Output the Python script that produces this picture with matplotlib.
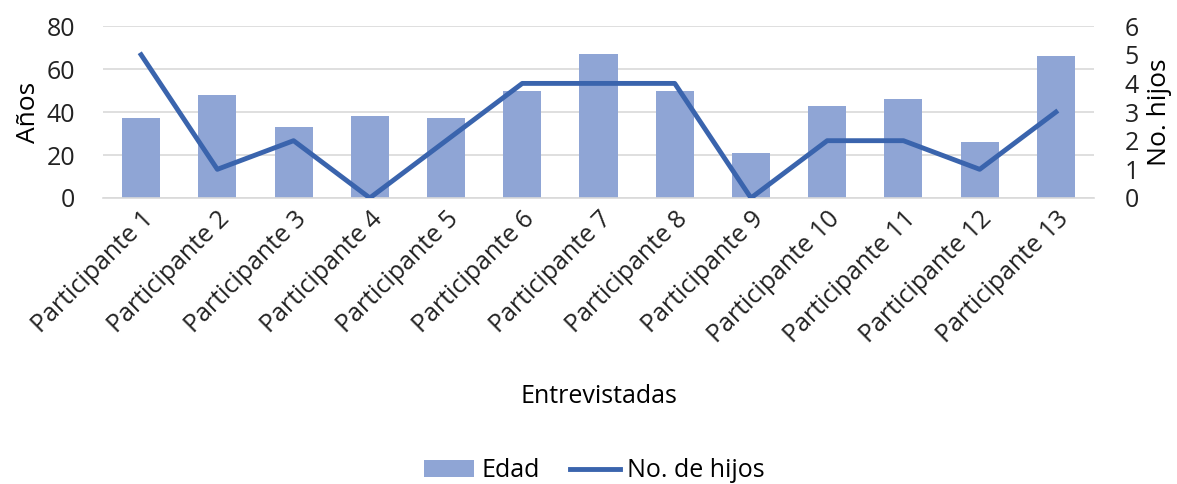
import matplotlib
matplotlib.use("Agg")
import matplotlib.pyplot as plt
import numpy as np

categories = [f"Participante {i}" for i in range(1, 14)]
edad = [37, 48, 33, 38, 37, 50, 67, 50, 21, 43, 46, 26, 66]
hijos = [5, 1, 2, 0, 2, 4, 4, 4, 0, 2, 2, 1, 3]

plt.rcParams['font.family'] = ['Open Sans', 'DejaVu Sans']

fig = plt.figure(figsize=(11.77, 4.84), dpi=100)
ax = fig.add_axes([0.0875, 0.591, 0.842, 0.355])
x = np.arange(len(categories))
bars = ax.bar(x, edad, width=0.5, color='#8FA5D5', label='Edad', zorder=2)
ax.set_ylim(0, 80)
ax.set_yticks([0, 20, 40, 60, 80])
ax.set_xlim(-0.5, len(categories) - 0.5)
ax.grid(axis='y', color='#d9d9d9', linewidth=1.2, zorder=0)
ax.set_axisbelow(True)
for s in ['top', 'right', 'left']:
    ax.spines[s].set_visible(False)
ax.spines['bottom'].set_color('#d9d9d9')
ax.spines['bottom'].set_linewidth(1.2)
ax.tick_params(axis='both', length=0, labelsize=18, colors='#222222')
ax.tick_params(axis='y', pad=20)
ax.tick_params(axis='x', pad=6)
ax.set_xticks(x)
ax.set_xticklabels(categories, rotation=45, ha='right', rotation_mode='anchor')
ax.set_ylabel('Años', fontsize=19, labelpad=4)
ax.set_xlabel('Entrevistadas', fontsize=18, labelpad=26)

ax2 = ax.twinx()
line, = ax2.plot(x, hijos, color='#3A64AD', linewidth=3.5, label='No. de hijos', zorder=3)
ax2.set_ylim(0, 6)
ax2.set_yticks(range(7))
for s in ['top', 'right', 'left', 'bottom']:
    ax2.spines[s].set_visible(False)
ax2.tick_params(axis='y', length=0, labelsize=18, colors='#222222', pad=22)
ax2.set_ylabel('No. hijos', fontsize=19, labelpad=6)

fig.legend([bars, line], ['Edad', 'No. de hijos'], loc='lower center',
           bbox_to_anchor=(0.505, -0.045), ncol=2, frameon=False, fontsize=18,
           handlelength=2.0, columnspacing=1.2, handletextpad=0.3)

fig.savefig('out.png', dpi=100)
